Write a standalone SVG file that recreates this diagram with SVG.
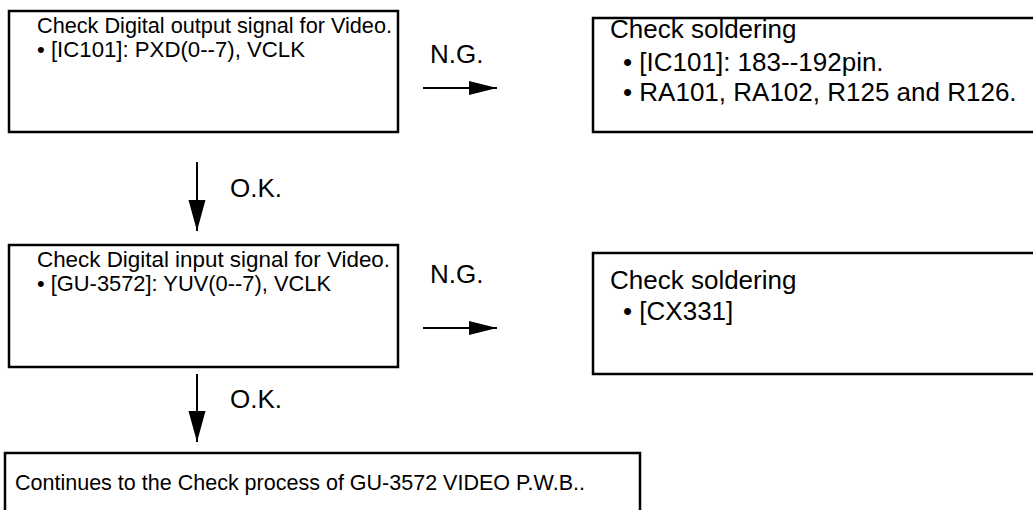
<svg xmlns="http://www.w3.org/2000/svg" width="1033" height="510" viewBox="0 0 1033 510">
<style>
.box{fill:#fff;stroke:#000;stroke-width:2.5}
.t{font-family:"Liberation Sans",Arial,sans-serif;font-size:21.5px;fill:#000}
.t2{font-family:"Liberation Sans",Arial,sans-serif;font-size:26px;fill:#000}
.lbl{font-family:"Liberation Sans",Arial,sans-serif;font-size:26px;fill:#000}
.ln{stroke:#000;stroke-width:2;fill:none}
</style>
<defs>
<marker id="ah" markerUnits="userSpaceOnUse" markerWidth="30" markerHeight="20" refX="28" refY="9" orient="auto" viewBox="0 0 30 18">
<path d="M0,2 L28,9 L0,16 Z" fill="#000"/>
</marker>
<marker id="av" markerUnits="userSpaceOnUse" markerWidth="34" markerHeight="20" refX="31" refY="10" orient="auto" viewBox="0 0 34 20">
<path d="M0,1.5 L31,10 L0,18.5 Z" fill="#000"/>
</marker>
</defs>
<rect width="1033" height="510" fill="#fff"/>
<g id="connectors">
<line class="ln" x1="423" y1="88" x2="497" y2="88" marker-end="url(#ah)"/>
<line class="ln" x1="423" y1="328" x2="497" y2="328" marker-end="url(#ah)"/>
<line class="ln" x1="197" y1="162" x2="197" y2="231" marker-end="url(#av)"/>
<line class="ln" x1="197" y1="374" x2="197" y2="442" marker-end="url(#av)"/>
<text class="lbl" x="430" y="63">N.G.</text>
<text class="lbl" x="430" y="283">N.G.</text>
<text class="lbl" x="230" y="197">O.K.</text>
<text class="lbl" x="230" y="408">O.K.</text>
</g>
<g id="box1">
<rect class="box" x="9" y="11" width="389" height="121"/>
<text class="t" x="37" y="33" textLength="355" lengthAdjust="spacingAndGlyphs">Check Digital output signal for Video.</text>
<text class="t" x="37" y="57" textLength="268" lengthAdjust="spacingAndGlyphs">• [IC101]: PXD(0--7), VCLK</text>
</g>
<g id="box2">
<rect class="box" x="593" y="18" width="460" height="114"/>
<text class="t2" x="610" y="38">Check soldering</text>
<text class="t2" x="623" y="71">• [IC101]: 183--192pin.</text>
<text class="t2" x="623" y="101">• RA101, RA102, R125 and R126.</text>
</g>
<g id="box3">
<rect class="box" x="9" y="245" width="389" height="122"/>
<text class="t" x="37" y="267" textLength="353" lengthAdjust="spacingAndGlyphs">Check Digital input signal for Video.</text>
<text class="t" x="37" y="291" textLength="294" lengthAdjust="spacingAndGlyphs">• [GU-3572]: YUV(0--7), VCLK</text>
</g>
<g id="box4">
<rect class="box" x="593" y="253" width="460" height="121"/>
<text class="t2" x="610" y="289">Check soldering</text>
<text class="t2" x="623" y="320">• [CX331]</text>
</g>
<g id="box5">
<rect class="box" x="5" y="453" width="635" height="70"/>
<text class="t" x="15" y="490" textLength="570" lengthAdjust="spacingAndGlyphs">Continues to the Check process of GU-3572 VIDEO P.W.B..</text>
</g>
</svg>
